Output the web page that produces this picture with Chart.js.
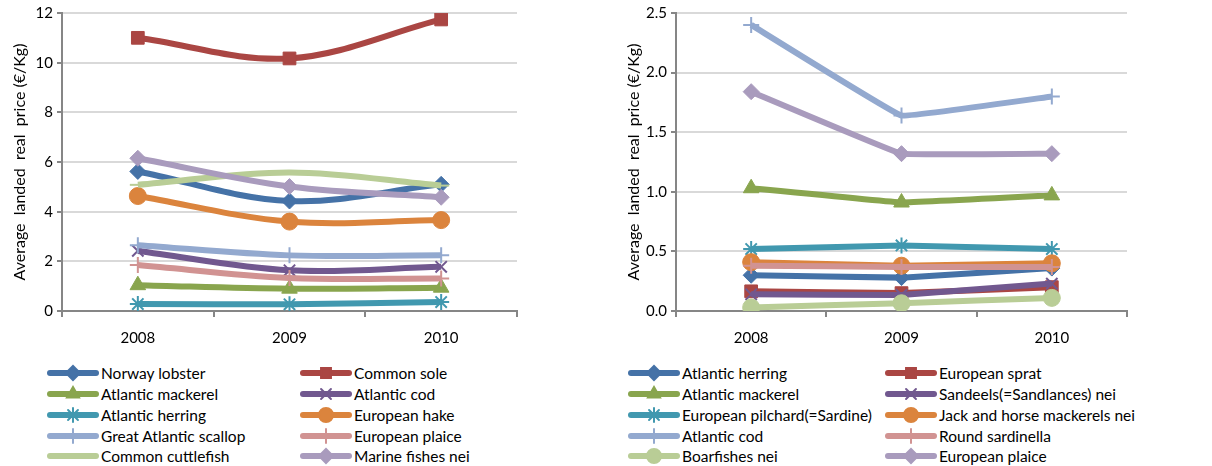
<!DOCTYPE html>
<html>
<head>
<meta charset="utf-8">
<script src="https://cdn.jsdelivr.net/npm/chart.js@4/dist/chart.umd.min.js"></script>
<style>
  body { margin: 0; background: #fff; width: 1212px; height: 466px; overflow: hidden; position: relative; font-family: Lato, "Open Sans", sans-serif; }
  .box { position: absolute; top: 0; width: 540px; height: 356px; }
  .item { position: absolute; height: 20px; display: flex; align-items: center; white-space: nowrap; font-size: 15.5px; color: #000; }
  .item canvas { margin-right: 2px; }
</style>
</head>
<body>
<div class="box" style="left:0"><canvas id="leftChart"></canvas></div>
<div class="box" style="left:614px"><canvas id="rightChart"></canvas></div>
<div id="leftLegend"></div>
<div id="rightLegend"></div>
<script>
const years = ["2008", "2009", "2010"];

const colors = ["#4572A7", "#AA4643", "#89A54E", "#71588F", "#4198AF",
  "#DB843D", "#93A9CF", "#D19392", "#B9CD96", "#A99BBD"];

const leftNames = ["Norway lobster", "Common sole", "Atlantic mackerel", "Atlantic cod",
  "Atlantic herring", "European hake", "Great Atlantic scallop", "European plaice",
  "Common cuttlefish", "Marine fishes nei"];
const leftPrices = [
  [5.62, 4.43, 5.1],
  [11.0, 10.17, 11.74],
  [1.04, 0.9, 0.94],
  [2.42, 1.64, 1.78],
  [0.28, 0.27, 0.36],
  [4.63, 3.6, 3.66],
  [2.65, 2.24, 2.24],
  [1.85, 1.33, 1.31],
  [5.08, 5.58, 5.05],
  [6.15, 5.01, 4.58]
];
const leftMarkers = ["rectRot", "rect", "triangle", "crossRot", "star",
  "circle", "cross", "cross", "line", "rectRot"];

const rightNames = ["Atlantic herring", "European sprat", "Atlantic mackerel",
  "Sandeels(=Sandlances) nei", "European pilchard(=Sardine)", "Jack and horse mackerels nei",
  "Atlantic cod", "Round sardinella", "Boarfishes nei", "European plaice"];
const rightPrices = [
  [0.30, 0.28, 0.36],
  [0.165, 0.15, 0.2],
  [1.03, 0.91, 0.97],
  [0.14, 0.135, 0.23],
  [0.52, 0.55, 0.52],
  [0.41, 0.38, 0.40],
  [2.4, 1.64, 1.8],
  [0.38, 0.37, 0.37],
  [0.03, 0.065, 0.11],
  [1.84, 1.32, 1.32]
];
const rightMarkers = ["rectRot", "rect", "triangle", "crossRot", "star",
  "circle", "cross", "cross", "circle", "rectRot"];

const FONT = "Lato, 'Open Sans', sans-serif";

function markerSize(style) {
  if (style === "rect") return 9;
  if (style === "circle") return 8.5;
  if (style === "triangle") return 9;
  return 8;
}

function buildDatasets(names, prices, markers, tension) {
  return names.map((name, i) => ({
    label: name,
    data: prices[i],
    borderColor: colors[i],
    backgroundColor: colors[i],
    pointBackgroundColor: colors[i],
    pointBorderColor: colors[i],
    pointStyle: markers[i],
    pointRadius: markerSize(markers[i]),
    pointBorderWidth: ["crossRot", "star", "cross", "line"].includes(markers[i]) ? 2 : 1,
    borderWidth: 6,
    tension: tension,
    order: names.length - i
  }));
}

function makeChart(id, names, prices, markers, max, step, decimals, tension, axisWidth, padRight) {
  const ctx = document.getElementById(id).getContext("2d");
  return new Chart(ctx, {
    type: "line",
    data: { labels: years, datasets: buildDatasets(names, prices, markers, tension) },
    options: {
      responsive: true,
      maintainAspectRatio: false,
      animation: false,
      layout: { padding: { top: 6, right: padRight, left: 4, bottom: 0 } },
      plugins: { legend: { display: false }, tooltip: { enabled: false } },
      scales: {
        x: {
          offset: true,
          afterFit: (scale) => { scale.height = 45; },
          grid: { offset: true, drawOnChartArea: false, tickLength: 6, tickColor: "#868686", lineWidth: 2 },
          border: { color: "#868686", width: 2 },
          ticks: { color: "#000", font: { family: FONT, size: 15 }, padding: 12, maxRotation: 0 }
        },
        y: {
          min: 0,
          max: max,
          afterFit: (scale) => { scale.width = axisWidth; },
          ticks: {
            stepSize: step,
            color: "#000",
            font: { family: FONT, size: 15 },
            padding: 4,
            callback: (v) => v.toFixed(decimals)
          },
          grid: { color: "#D9D9D9", lineWidth: 2, tickLength: 5, tickColor: "#868686" },
          border: { color: "#868686", width: 2 },
          title: {
            display: true,
            text: "Average  landed  real  price (€/Kg)",
            color: "#000",
            font: { family: FONT, size: 16 },
            padding: { top: 6, bottom: 4 }
          }
        }
      }
    }
  });
}

makeChart("leftChart", leftNames, leftPrices, leftMarkers, 12, 2, 0, 0.35, 58, 23);
makeChart("rightChart", rightNames, rightPrices, rightMarkers, 2.5, 0.5, 1, 0.05, 58, 27);

// legend built from the same series, two columns like the original
function buildLegend(holderId, names, markers, col1, col2) {
  const holder = document.getElementById(holderId);
  const rows = [363, 384, 405, 426, 446];
  names.forEach((name, i) => {
    const item = document.createElement("div");
    item.className = "item";
    item.style.left = (i % 2 === 0 ? col1 : col2) + "px";
    item.style.top = rows[Math.floor(i / 2)] + "px";
    const c = document.createElement("canvas");
    c.width = 52;
    c.height = 20;
    const g = c.getContext("2d");
    g.strokeStyle = colors[i];
    g.fillStyle = colors[i];
    g.lineWidth = 6;
    g.lineCap = "round";
    g.beginPath();
    g.moveTo(3, 10);
    g.lineTo(49, 10);
    g.stroke();
    g.lineWidth = 2;
    if (markers[i] !== "line") {
      Chart.helpers.drawPoint(g, { pointStyle: markers[i], radius: 7, rotation: 0, borderWidth: 2 }, 26, 10);
    }
    item.appendChild(c);
    const t = document.createElement("span");
    t.textContent = name;
    item.appendChild(t);
    holder.appendChild(item);
  });
}

buildLegend("leftLegend", leftNames, leftMarkers, 47, 300);
buildLegend("rightLegend", rightNames, rightMarkers, 628, 885);
</script>
</body>
</html>
